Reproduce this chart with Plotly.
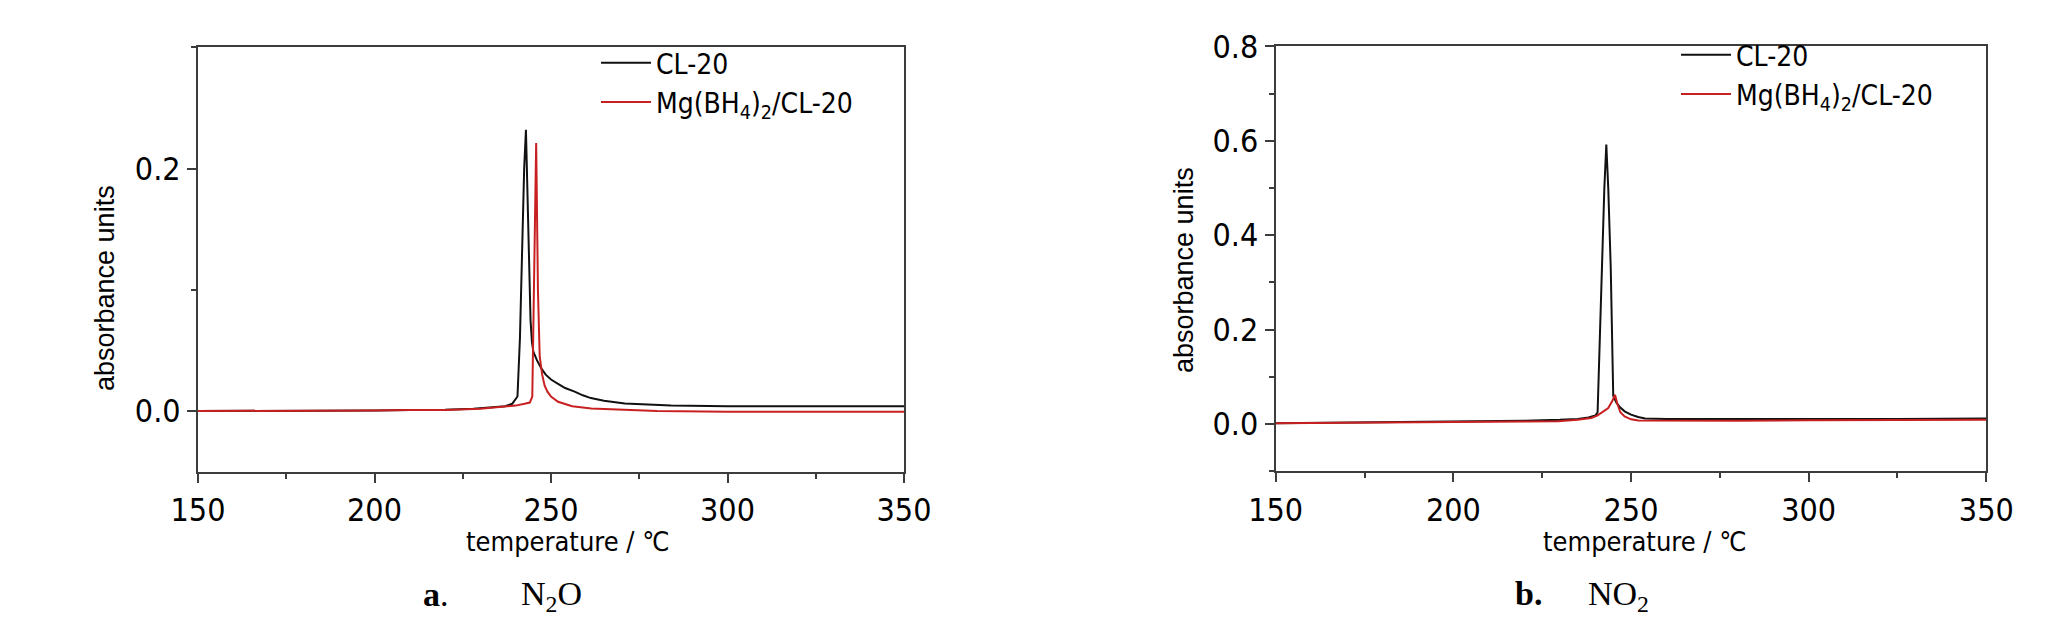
import plotly.graph_objects as go

# ---- data: panel a (N2O) ----
t_a_cl20 = [150, 170, 190, 200, 210, 220, 228, 234, 237, 239, 240.5, 241.2, 241.8, 242.4, 242.9,
            243.4, 243.8, 244.2, 244.6, 245.0, 246.0, 247.3, 248.5, 250, 252, 254, 256.7, 259,
            261.3, 265, 270.9, 277, 284, 300, 320, 350]
v_a_cl20 = [0.0, 0.0, 0.0005, 0.0005, 0.0008, 0.001, 0.002, 0.003, 0.004, 0.006, 0.012, 0.06, 0.13,
            0.2, 0.232, 0.18, 0.12, 0.075, 0.057, 0.049, 0.042, 0.035, 0.030, 0.026, 0.0225, 0.019,
            0.016, 0.013, 0.0107, 0.0085, 0.0063, 0.0052, 0.0045, 0.004, 0.004, 0.004]

t_a_mg = [150, 170, 190, 200, 210, 220, 230, 235, 240, 242.5, 244.0, 244.7, 245.2, 245.8, 246.3,
          246.8, 247.5, 248.2, 249, 250, 252, 256, 261.4, 270, 280, 300, 350]
v_a_mg = [0.0, 0.0, 0.0005, 0.0005, 0.0008, 0.0008, 0.002, 0.003, 0.0045, 0.006, 0.007, 0.012,
          0.12, 0.221, 0.1, 0.045, 0.03, 0.021, 0.016, 0.012, 0.0077, 0.004, 0.0022, 0.001, 0.0,
          -0.0005, -0.0005]

# ---- data: panel b (NO2) ----
t_b_cl20 = [150, 175, 200, 220, 230, 235, 238, 240, 240.6, 241.6, 242.5, 243.05, 243.6, 244.3,
            245.0, 245.9, 247, 248.2, 250, 252, 254, 260, 280, 300, 325, 350]
v_b_cl20 = [0.002, 0.004, 0.005, 0.007, 0.009, 0.011, 0.014, 0.018, 0.025, 0.3, 0.5, 0.592, 0.5,
            0.33, 0.06, 0.045, 0.035, 0.027, 0.02, 0.015, 0.012, 0.011, 0.0105, 0.011, 0.011, 0.012]

t_b_mg = [150, 175, 200, 220, 229.5, 235, 238.8, 240.5, 242, 243.6, 244.8, 245.5, 246.2, 247,
          248.2, 250, 252, 260, 280, 300, 350]
v_b_mg = [0.002, 0.003, 0.004, 0.005, 0.006, 0.009, 0.013, 0.018, 0.025, 0.034, 0.05, 0.062,
          0.042, 0.025, 0.016, 0.01, 0.0075, 0.007, 0.007, 0.008, 0.009]

names = ["CL-20", "Mg(BH<sub>4</sub>)<sub>2</sub>/CL-20"]
x_ticks = [150, 200, 250, 300, 350]

BLACK = "#111111"
RED = "#c82020"
FRAME = "#3c3c3c"
NARROW = "Liberation Sans Narrow, Arial Narrow, DejaVu Sans Condensed, Liberation Sans, Arial"
REG = "Liberation Sans, Arial"

fig = go.Figure()
fig.add_trace(go.Scatter(x=t_a_cl20, y=v_a_cl20, mode="lines", name=names[0],
                         line=dict(color=BLACK, width=2), xaxis="x", yaxis="y", legend="legend"))
fig.add_trace(go.Scatter(x=t_a_mg, y=v_a_mg, mode="lines", name=names[1],
                         line=dict(color=RED, width=2), xaxis="x", yaxis="y", legend="legend"))
fig.add_trace(go.Scatter(x=t_b_cl20, y=v_b_cl20, mode="lines", name=names[0],
                         line=dict(color=BLACK, width=2), xaxis="x2", yaxis="y2", legend="legend2"))
fig.add_trace(go.Scatter(x=t_b_mg, y=v_b_mg, mode="lines", name=names[1],
                         line=dict(color=RED, width=2), xaxis="x2", yaxis="y2", legend="legend2"))

W, H = 2072, 631

def xax(domain, anchor):
    return dict(domain=domain, anchor=anchor, range=[150, 350], tickvals=x_ticks,
                automargin=False,
                showline=True, mirror=True, linecolor=FRAME, linewidth=2,
                ticks="outside", ticklen=9, tickwidth=2, tickcolor=FRAME,
                minor=dict(dtick=25, tick0=150, ticks="outside", ticklen=5, tickwidth=1.5, tickcolor=FRAME),
                showgrid=False, zeroline=False,
                tickfont=dict(family=NARROW, size=32, color="black"))

def yax(domain, anchor, rng, dtick):
    return dict(domain=domain, anchor=anchor, range=rng, dtick=dtick, tick0=0, tickformat=".1f",
                automargin=False,
                showline=True, mirror=True, linecolor=FRAME, linewidth=2,
                ticks="outside", ticklen=9, tickwidth=2, tickcolor=FRAME,
                minor=dict(dtick=0.1, tick0=0, ticks="outside", ticklen=5, tickwidth=1.5, tickcolor=FRAME),
                showgrid=False, zeroline=False,
                tickfont=dict(family=NARROW, size=32, color="black"))

def ann(text, x, y, family, size, angle=0):
    return dict(text=text, x=x / W, y=1 - y / H, xref="paper", yref="paper", showarrow=False,
                textangle=angle, xanchor="center", yanchor="middle",
                font=dict(family=family, size=size, color="black"))

xtitle = "temperature / ℃"
ytitle = "absorbance units"

fig.update_layout(
    width=W, height=H, autosize=False,
    margin=dict(l=0, r=0, t=0, b=0),
    paper_bgcolor="white", plot_bgcolor="white",
    xaxis=xax([190 / W, 896 / W], "y"),
    yaxis=yax([1 - 463.7 / H, 1 - 39.3 / H], "x", [-0.05, 0.3], 0.2),
    xaxis2=xax([1267.7 / W, 1978.3 / W], "y2"),
    yaxis2=yax([1 - 463.3 / H, 1 - 38.3 / H], "x2", [-0.1, 0.8], 0.2),
    legend=dict(x=588 / W, y=1 - 30 / H, xanchor="left", yanchor="top", bgcolor="rgba(0,0,0,0)",
                font=dict(family=NARROW, size=28, color="black"), itemwidth=50, tracegroupgap=0),
    legend2=dict(x=1668 / W, y=1 - 22 / H, xanchor="left", yanchor="top", bgcolor="rgba(0,0,0,0)",
                 font=dict(family=NARROW, size=28, color="black"), itemwidth=50, tracegroupgap=0),
    annotations=[
        ann(xtitle, 560, 533, NARROW, 27),
        ann(xtitle, 1637, 533, NARROW, 27),
        ann(ytitle, 97, 280, REG, 27, -90),
        ann(ytitle, 1176, 262, REG, 27, -90),
        ann("<b>a</b>.", 428, 586, "Liberation Serif", 34),
        ann("N<sub>2</sub>O", 543, 588, "Liberation Serif", 34),
        ann("<b>b.</b>", 1520, 585, "Liberation Serif", 34),
        ann("NO<sub>2</sub>", 1610, 588, "Liberation Serif", 34),
    ],
)

fig.write_html("out.html")
